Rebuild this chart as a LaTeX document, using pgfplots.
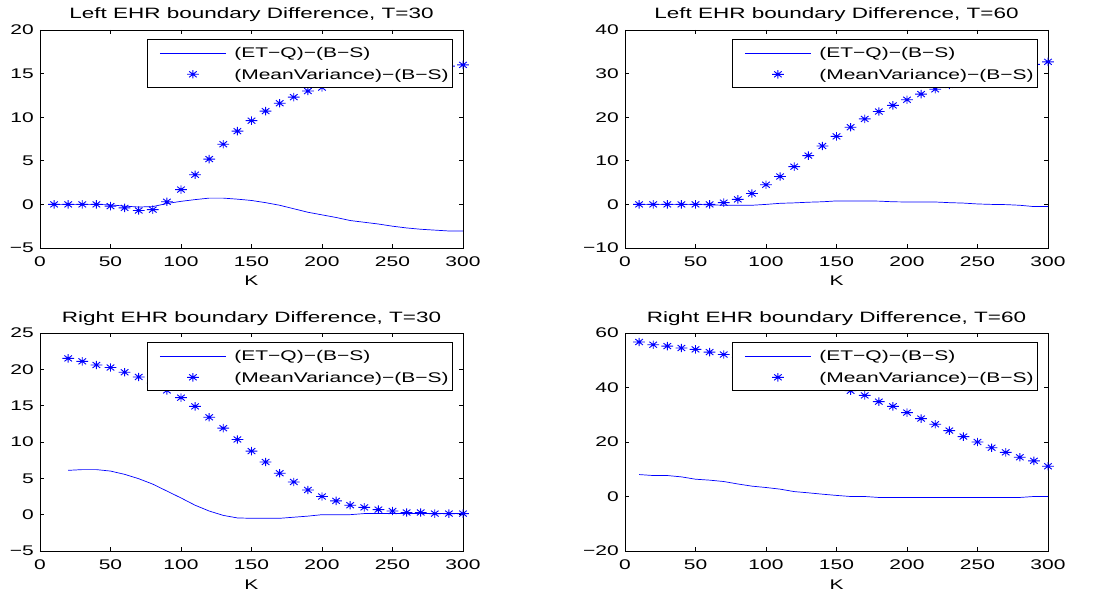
\documentclass[border=0pt]{standalone}
\usepackage{fontspec}
\setmainfont{Liberation Sans}
\usepackage{graphicx}
\usepackage{pgfplots}
\pgfplotsset{compat=1.18}
\newcommand\sx[1]{\scalebox{1.5}[1]{#1}}

\pgfdeclareplotmark{mstar}{%
  \pgfpathmoveto{\pgfpoint{-1.4\pgfplotmarksize}{0pt}}%
  \pgfpathlineto{\pgfpoint{1.4\pgfplotmarksize}{0pt}}%
  \pgfpathmoveto{\pgfpoint{0pt}{-\pgfplotmarksize}}%
  \pgfpathlineto{\pgfpoint{0pt}{\pgfplotmarksize}}%
  \pgfpathmoveto{\pgfpoint{-0.9\pgfplotmarksize}{-0.7\pgfplotmarksize}}%
  \pgfpathlineto{\pgfpoint{0.9\pgfplotmarksize}{0.7\pgfplotmarksize}}%
  \pgfpathmoveto{\pgfpoint{-0.9\pgfplotmarksize}{0.7\pgfplotmarksize}}%
  \pgfpathlineto{\pgfpoint{0.9\pgfplotmarksize}{-0.7\pgfplotmarksize}}%
  \pgfusepathqstroke}

\pgfplotsset{
  panel/.style={
    scale only axis, width=423pt, height=218pt,
    anchor=south west,
    xmin=0, xmax=300,
    xtick={0,50,100,150,200,250,300},
    xticklabels={\sx{0},\sx{50},\sx{100},\sx{150},\sx{200},\sx{250},\sx{300}},
    tick align=inside, major tick length=4pt,
    axis line style={line width=0.7pt},
    every tick/.style={black, line width=0.6pt},
    every tick label/.append style={font=\fontsize{14}{14}\selectfont, inner sep=0pt},
    xticklabel style={anchor=base, yshift=-19pt},
    yticklabel style={anchor=east, xshift=-6pt},
    xlabel={\sx{K}},
    xlabel style={at={(axis description cs:0.5,0)}, anchor=base, yshift=-38pt, inner sep=0pt, font=\fontsize{14}{14}\selectfont},
    every axis title shift=0pt,
    title style={at={(axis description cs:0.5,1)}, anchor=base, yshift=11pt, inner sep=0pt, font=\fontsize{15}{16}\selectfont},
    legend cell align=left,
    legend style={at={(1,1)}, anchor=north east, xshift=-10pt, yshift=-9pt,
      draw=black, line width=0.6pt, fill=white,
      inner xsep=4pt, inner ysep=6pt, row sep=8pt,
      nodes={inner sep=0pt, text height=12pt, text depth=2pt},
      font=\fontsize{14}{14}\selectfont,
      /tikz/every odd column/.append style={column sep=8pt}},
  },
  etq/.style={blue, line width=0.7pt, no marks,
    legend image code/.code={\path[draw=none] (0pt,-1pt) -- (75pt,-1pt); \draw[##1, draw=blue, line width=0.8pt] (9pt,-1.2pt) -- (75pt,-1.2pt);}},
  mv/.style={blue, only marks, mark=mstar, mark size=4.2pt, line width=0.9pt,
    legend image code/.code={\path[draw=none] (0pt,0pt) -- (75pt,0pt); \draw[##1] plot coordinates {(42pt,0pt)};}},
}

\begin{document}
\begin{tikzpicture}
\useasboundingbox (0,0) rectangle (1101pt,592pt);

% Top left
\begin{axis}[panel, at={(40pt,344pt)},
  title={\sx{Left EHR boundary Difference, T=30}},
  ymin=-5, ymax=20, ytick={-5,0,5,10,15,20},
  yticklabels={\sx{−5},\sx{0},\sx{5},\sx{10},\sx{15},\sx{20}}]
\addplot[etq] coordinates {(10,0)(20,0)(30,0)(40,0)(50,-0.05)(60,-0.2)(70,-0.3)(80,-0.25)(90,0.1)(100,0.35)(110,0.55)(120,0.72)(130,0.72)(140,0.6)(150,0.45)(160,0.2)(170,-0.1)(180,-0.5)(190,-0.9)(200,-1.2)(210,-1.5)(220,-1.85)(230,-2.05)(240,-2.25)(250,-2.5)(260,-2.7)(270,-2.85)(280,-2.95)(290,-3.05)(300,-3.05)};
\addplot[mv] coordinates {(10,0)(20,0)(30,0)(40,0)(50,-0.2)(60,-0.4)(70,-0.7)(80,-0.6)(90,0.3)(100,1.7)(110,3.4)(120,5.2)(130,6.9)(140,8.4)(150,9.6)(160,10.7)(170,11.6)(180,12.3)(190,13.0)(200,13.4)(210,13.9)(220,14.3)(230,14.6)(240,14.9)(250,15.1)(260,15.3)(270,15.5)(280,15.7)(290,15.85)(300,16.0)};
\legend{\sx{(ET−Q)−(B−S)},\sx{(MeanVariance)−(B−S)}}
\end{axis}

% Top right
\begin{axis}[panel, at={(625pt,344pt)},
  title={\sx{Left EHR boundary Difference, T=60}},
  ymin=-10, ymax=40, ytick={-10,0,10,20,30,40},
  yticklabels={\sx{−10},\sx{0},\sx{10},\sx{20},\sx{30},\sx{40}}]
\addplot[etq] coordinates {(10,0)(20,0)(30,0)(40,0)(50,0)(60,-0.1)(70,-0.2)(80,-0.2)(90,-0.2)(100,0)(110,0.25)(120,0.35)(130,0.5)(140,0.6)(150,0.8)(160,0.8)(170,0.8)(180,0.75)(190,0.6)(200,0.55)(210,0.55)(220,0.55)(230,0.4)(240,0.3)(250,0.1)(260,0.0)(270,-0.05)(280,-0.2)(290,-0.5)(300,-0.5)};
\addplot[mv] coordinates {(10,0)(20,0)(30,0)(40,0)(50,0)(60,0)(70,0.4)(80,1.15)(90,2.5)(100,4.5)(110,6.4)(120,8.65)(130,11.2)(140,13.4)(150,15.6)(160,17.7)(170,19.6)(180,21.3)(190,22.7)(200,24.0)(210,25.3)(220,26.4)(230,27.4)(240,28.3)(250,29.2)(260,30.0)(270,30.8)(280,31.5)(290,32.1)(300,32.7)};
\legend{\sx{(ET−Q)−(B−S)},\sx{(MeanVariance)−(B−S)}}
\end{axis}

% Bottom left
\begin{axis}[panel, at={(40pt,41pt)},
  title={\sx{Right EHR boundary Difference, T=30}},
  ymin=-5, ymax=25, ytick={-5,0,5,10,15,20,25},
  yticklabels={\sx{−5},\sx{0},\sx{5},\sx{10},\sx{15},\sx{20},\sx{25}}]
\addplot[etq] coordinates {(20,6.1)(30,6.2)(40,6.2)(50,6.0)(60,5.55)(70,4.95)(80,4.2)(90,3.25)(100,2.3)(110,1.3)(120,0.5)(130,-0.1)(140,-0.45)(150,-0.5)(160,-0.5)(170,-0.5)(180,-0.35)(190,-0.2)(200,0)(210,0)(220,0)(230,0.15)(240,0.15)(250,0.15)(260,0.15)(270,0.15)(280,0.15)(290,0.15)(300,0.15)};
\addplot[mv] coordinates {(20,21.5)(30,21.1)(40,20.6)(50,20.25)(60,19.6)(70,18.95)(80,18.1)(90,17.1)(100,16.1)(110,14.9)(120,13.4)(130,11.9)(140,10.35)(150,8.75)(160,7.25)(170,5.7)(180,4.5)(190,3.4)(200,2.5)(210,1.9)(220,1.3)(230,1.0)(240,0.7)(250,0.5)(260,0.3)(270,0.3)(280,0.15)(290,0.15)(300,0.15)};
\legend{\sx{(ET−Q)−(B−S)},\sx{(MeanVariance)−(B−S)}}
\end{axis}

% Bottom right
\begin{axis}[panel, at={(625pt,41pt)},
  title={\sx{Right EHR boundary Difference, T=60}},
  ymin=-20, ymax=60, ytick={-20,0,20,40,60},
  yticklabels={\sx{−20},\sx{0},\sx{20},\sx{40},\sx{60}}]
\addplot[etq] coordinates {(10,8.05)(20,7.7)(30,7.7)(40,7.2)(50,6.35)(60,6.0)(70,5.5)(80,4.6)(90,3.8)(100,3.3)(110,2.7)(120,1.8)(130,1.35)(140,0.85)(150,0.4)(160,0)(170,0)(180,-0.35)(190,-0.35)(200,-0.35)(210,-0.35)(220,-0.35)(230,-0.35)(240,-0.35)(250,-0.35)(260,-0.35)(270,-0.35)(280,-0.35)(290,0)(300,0)};
\addplot[mv] coordinates {(10,56.7)(20,55.7)(30,55.2)(40,54.5)(50,54.0)(60,53.0)(70,52.1)(80,51.1)(90,50.0)(100,48.8)(110,47.4)(120,45.9)(130,44.2)(140,42.5)(150,40.7)(160,38.8)(170,37.1)(180,34.8)(190,33.1)(200,30.8)(210,28.6)(220,26.5)(230,24.2)(240,22.0)(250,20.0)(260,17.9)(270,16.2)(280,14.4)(290,13.1)(300,11.1)};
\legend{\sx{(ET−Q)−(B−S)},\sx{(MeanVariance)−(B−S)}}
\end{axis}
\end{tikzpicture}
\end{document}
